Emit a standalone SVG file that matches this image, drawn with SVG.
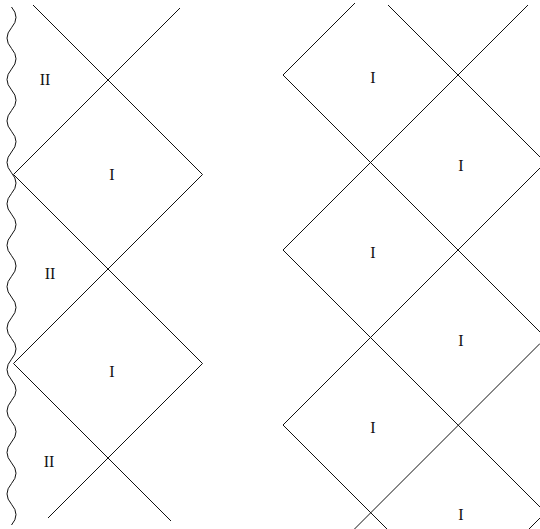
<svg xmlns="http://www.w3.org/2000/svg" width="540" height="529" viewBox="0 0 540 529">
<style>
.l{stroke:#111;stroke-width:1;fill:none}
.t{font-family:"Liberation Serif","Times New Roman",serif;font-size:16px;fill:#111;text-anchor:middle}
</style>
<rect width="540" height="529" fill="#fff"/>
<g id="connectors">
<path id="singularity" class="l" d="M11.5,7 q9,10.36 0,20.72 t0,20.72 t0,20.72 t0,20.72 t0,20.72 t0,20.72 t0,20.72 t0,20.72 t0,20.72 t0,20.72 t0,20.72 t0,20.72 t0,20.72 t0,20.72 t0,20.72 t0,20.72 t0,20.72 t0,20.72 t0,20.72 t0,20.72 t0,20.72 t0,20.72 t0,20.72 t0,20.72 t0,20.72"/>
<path class="l" d="M33,5 L202.5,174.5 M180,8 L13.5,174.5 M13.5,174.5 L202.5,363.5 M202.5,174.5 L13.5,363.5 M13.5,363.5 L171,521 M202.5,363.5 L48,518"/>
<path class="l" d="M283,75 L540,332 M388,5 L540,157 M283,250 L540,507 M283,425 L390,532 M283,75 L355,3 M283,250 L528,5 M283,425 L540,168 M350,533.5 L540,343.5 M525,533 L540,518"/>
</g>
<g id="left-II-1"><text class="t" x="45" y="85">II</text></g>
<g id="left-I-1"><text class="t" x="112" y="180">I</text></g>
<g id="left-II-2"><text class="t" x="50" y="279">II</text></g>
<g id="left-I-2"><text class="t" x="112" y="377">I</text></g>
<g id="left-II-3"><text class="t" x="49" y="467">II</text></g>
<g id="right-I-1"><text class="t" x="373" y="83">I</text></g>
<g id="right-I-2"><text class="t" x="461" y="171">I</text></g>
<g id="right-I-3"><text class="t" x="373" y="258">I</text></g>
<g id="right-I-4"><text class="t" x="461" y="346">I</text></g>
<g id="right-I-5"><text class="t" x="373" y="433">I</text></g>
<g id="right-I-6"><text class="t" x="461" y="520">I</text></g>
</svg>
